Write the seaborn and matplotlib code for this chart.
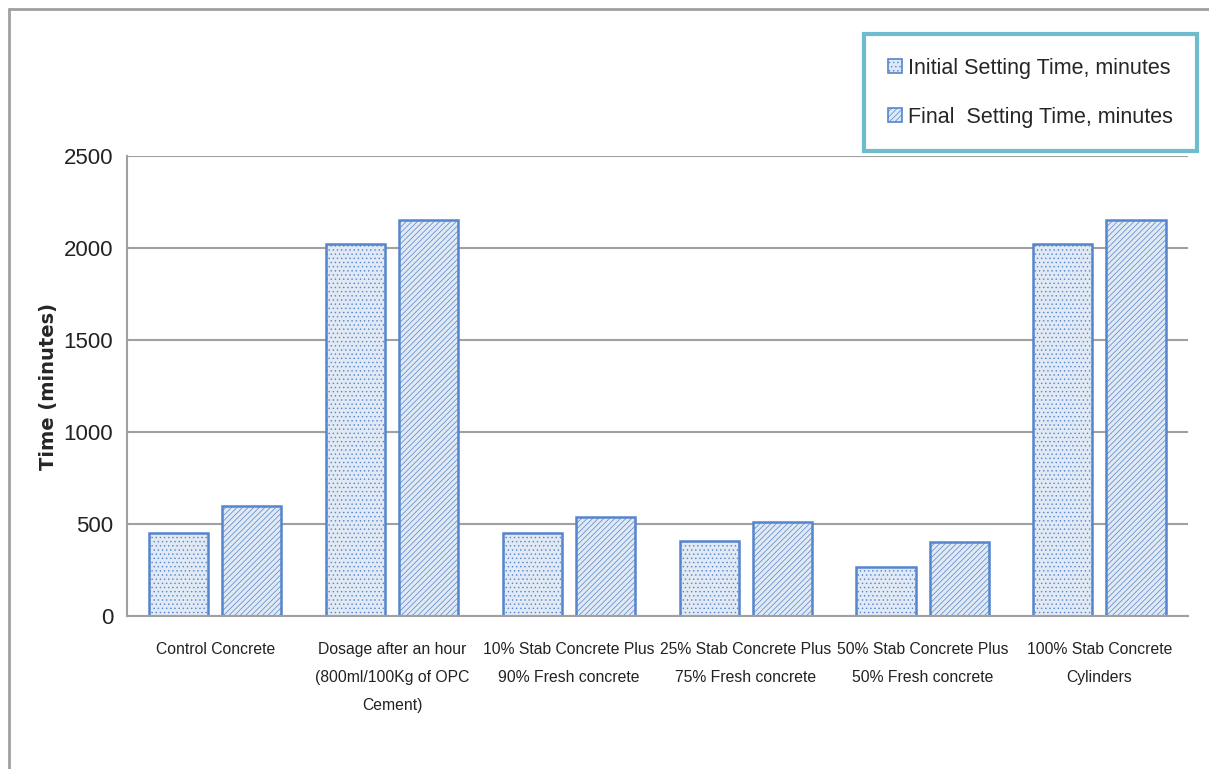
import matplotlib
matplotlib.use("Agg")
import matplotlib.pyplot as plt
import seaborn as sns
import pandas as pd
from matplotlib.lines import Line2D

categories = [
    "Control Concrete",
    "Dosage after an hour\n(800ml/100Kg of OPC\nCement)",
    "10% Stab Concrete Plus\n90% Fresh concrete",
    "25% Stab Concrete Plus\n75% Fresh concrete",
    "50% Stab Concrete Plus\n50% Fresh concrete",
    "100% Stab Concrete\nCylinders",
]
series_names = ["Initial Setting Time, minutes", "Final  Setting Time, minutes"]
initial_values = [450, 2020, 450, 410, 265, 2020]
final_values = [600, 2150, 540, 510, 400, 2150]
y_ticks = [0, 500, 1000, 1500, 2000, 2500]

df = pd.DataFrame({
    "category": categories * 2,
    "series": [series_names[0]] * len(categories) + [series_names[1]] * len(categories),
    "value": initial_values + final_values,
})

sns.set_theme(style="white")
plt.rcParams["font.family"] = ["Liberation Sans", "DejaVu Sans"]
plt.rcParams["hatch.linewidth"] = 0.5

fig = plt.figure(figsize=(12.09, 7.69), dpi=100)
ax = fig.add_axes([0.105, 0.199, 0.8775, 0.598])

face = "#dde9f7"
edge = "#5585cc"
sns.barplot(data=df, x="category", y="value", hue="series", ax=ax,
            palette=[face, face], width=0.828, gap=0.193,
            edgecolor=edge, linewidth=1.8, legend=False)

hatches = ["....", "//////"]
for cont, h in zip(ax.containers, hatches):
    for bar in cont:
        bar.set_hatch(h)
        bar.set_edgecolor(edge)

ax.set_ylim(0, 2500)
ax.set_yticks(y_ticks)
ax.set_yticklabels([str(t) for t in y_ticks], fontsize=16, color="#222222")
ax.set_xlim(-0.5, len(categories) - 0.5)
ax.tick_params(axis="x", colors="#222222", length=0, pad=19)
for lbl in ax.get_xticklabels():
    lbl.set_fontsize(11.3)
    lbl.set_linespacing(2.05)
ax.tick_params(axis="y", length=0, pad=10)
ax.set_xlabel("")
ax.set_ylabel("Time (minutes)", fontsize=14, fontweight="bold",
              family=["DejaVu Sans"], labelpad=4)
ax.yaxis.grid(True, color="#a0a0a0", linewidth=1.5)
ax.set_axisbelow(True)
for s in ["top", "right"]:
    ax.spines[s].set_visible(False)
for s in ["left", "bottom"]:
    ax.spines[s].set_color("#a0a0a0")
    ax.spines[s].set_linewidth(1.5)

# legend
handles = [plt.Rectangle((0, 0), 1, 1, facecolor=face, edgecolor=edge, hatch=h, linewidth=1.2)
           for h in hatches]
leg = fig.legend(handles, series_names, loc="upper right",
                 bbox_to_anchor=(0.990, 0.956), fontsize=15.5, frameon=True,
                 fancybox=False, handlelength=0.65, handleheight=0.65,
                 handletextpad=0.3, labelspacing=1.3, borderpad=1.1,
                 borderaxespad=0)
leg.get_frame().set_edgecolor("#4bacc6")
leg.get_frame().set_linewidth(3)

# figure border (left and top)
fig.add_artist(Line2D([0.0075, 0.0075], [0, 0.988], transform=fig.transFigure,
                      color="#a0a0a0", linewidth=2))
fig.add_artist(Line2D([0.0075, 1.0], [0.988, 0.988], transform=fig.transFigure,
                      color="#a0a0a0", linewidth=2))

fig.savefig("out.png", dpi=100)
